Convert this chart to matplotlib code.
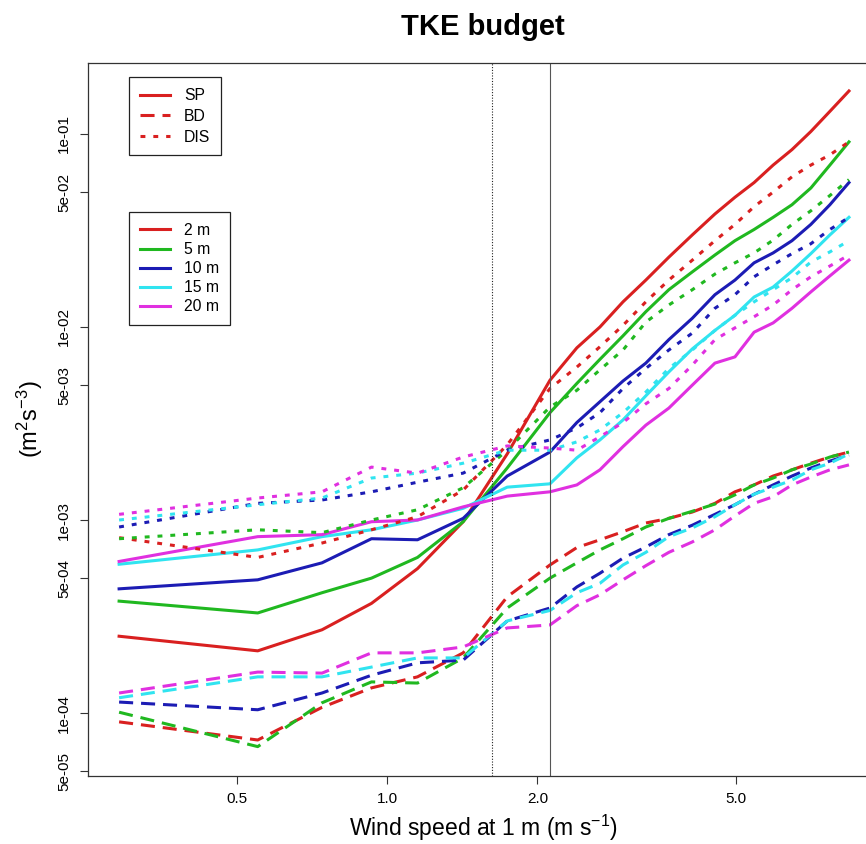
import numpy as np
import matplotlib
matplotlib.use("Agg")
import matplotlib.pyplot as plt
from matplotlib.lines import Line2D

plt.rcParams["font.family"] = ["Liberation Sans", "DejaVu Sans"]
plt.rcParams["mathtext.default"] = "regular"

# --- data ---
wind = [0.29, 0.55, 0.74, 0.93, 1.15, 1.42, 1.74, 2.12, 2.40, 2.67, 2.97,
        3.30, 3.67, 4.09, 4.54, 4.98, 5.44, 5.94, 6.48, 7.07, 7.72, 8.43]

# shear production
sp_2m = [2.5e-4, 2.1e-4, 2.7e-4, 3.7e-4, 5.6e-4, 9.8e-4, 2.2e-3, 5.3e-3, 7.8e-3, 1.0e-2, 1.35e-2,
         1.75e-2, 2.3e-2, 3.0e-2, 3.85e-2, 4.7e-2, 5.6e-2, 6.9e-2, 8.3e-2, 1.03e-1, 1.31e-1, 1.67e-1]
sp_5m = [3.8e-4, 3.3e-4, 4.2e-4, 5.0e-4, 6.4e-4, 9.8e-4, 1.86e-3, 3.6e-3, 5.1e-3, 6.8e-3, 9.0e-3,
         1.2e-2, 1.56e-2, 1.93e-2, 2.36e-2, 2.8e-2, 3.2e-2, 3.7e-2, 4.3e-2, 5.25e-2, 6.9e-2, 9.1e-2]
sp_10m = [4.4e-4, 4.9e-4, 6.0e-4, 8.0e-4, 7.9e-4, 1.02e-3, 1.69e-3, 2.25e-3, 3.2e-3, 4.1e-3, 5.25e-3,
          6.5e-3, 8.6e-3, 1.11e-2, 1.47e-2, 1.75e-2, 2.15e-2, 2.42e-2, 2.8e-2, 3.4e-2, 4.3e-2, 5.6e-2]
sp_15m = [5.9e-4, 7.0e-4, 8.2e-4, 8.9e-4, 1.0e-3, 1.15e-3, 1.48e-3, 1.54e-3, 2.1e-3, 2.6e-3, 3.3e-3,
          4.4e-3, 5.85e-3, 7.7e-3, 9.6e-3, 1.15e-2, 1.43e-2, 1.61e-2, 1.95e-2, 2.4e-2, 3.0e-2, 3.7e-2]
sp_20m = [6.1e-4, 8.2e-4, 8.4e-4, 9.8e-4, 1.0e-3, 1.17e-3, 1.33e-3, 1.40e-3, 1.52e-3, 1.82e-3, 2.4e-3,
          3.1e-3, 3.8e-3, 5.0e-3, 6.5e-3, 7.0e-3, 9.4e-3, 1.05e-2, 1.25e-2, 1.52e-2, 1.84e-2, 2.22e-2]

# buoyancy
bd_2m = [9.0e-5, 7.25e-5, 1.07e-4, 1.35e-4, 1.54e-4, 2.05e-4, 4.0e-4, 5.85e-4, 7.2e-4, 7.9e-4, 8.7e-4,
         9.65e-4, 1.02e-3, 1.1e-3, 1.22e-3, 1.4e-3, 1.52e-3, 1.69e-3, 1.82e-3, 1.97e-3, 2.12e-3, 2.25e-3]
bd_5m = [1.01e-4, 6.7e-5, 1.13e-4, 1.45e-4, 1.43e-4, 1.93e-4, 3.5e-4, 5.0e-4, 6.0e-4, 7.0e-4, 8.0e-4,
         9.2e-4, 1.02e-3, 1.11e-3, 1.21e-3, 1.35e-3, 1.52e-3, 1.65e-3, 1.82e-3, 1.95e-3, 2.12e-3, 2.25e-3]
bd_10m = [1.14e-4, 1.04e-4, 1.27e-4, 1.57e-4, 1.82e-4, 1.88e-4, 3.0e-4, 3.5e-4, 4.5e-4, 5.3e-4, 6.35e-4,
          7.25e-4, 8.4e-4, 9.4e-4, 1.07e-3, 1.2e-3, 1.36e-3, 1.52e-3, 1.69e-3, 1.86e-3, 2.02e-3, 2.17e-3]
bd_15m = [1.2e-4, 1.54e-4, 1.54e-4, 1.73e-4, 1.93e-4, 1.93e-4, 3.0e-4, 3.4e-4, 4.2e-4, 4.7e-4, 5.85e-4,
          6.8e-4, 8.2e-4, 9.1e-4, 1.04e-3, 1.2e-3, 1.36e-3, 1.48e-3, 1.61e-3, 1.82e-3, 1.97e-3, 2.2e-3]
bd_20m = [1.27e-4, 1.63e-4, 1.61e-4, 2.05e-4, 2.05e-4, 2.2e-4, 2.76e-4, 2.86e-4, 3.6e-4, 4.1e-4, 4.9e-4,
          5.8e-4, 6.8e-4, 7.7e-4, 8.9e-4, 1.05e-3, 1.22e-3, 1.32e-3, 1.52e-3, 1.67e-3, 1.82e-3, 1.93e-3]

# dissipation
dis_2m = [8.1e-4, 6.4e-4, 7.6e-4, 8.9e-4, 1.04e-3, 1.43e-3, 2.45e-3, 4.8e-3, 6.2e-3, 7.9e-3, 1.02e-2,
          1.35e-2, 1.75e-2, 2.22e-2, 2.8e-2, 3.4e-2, 4.2e-2, 5.0e-2, 6.0e-2, 6.9e-2, 7.8e-2, 9.1e-2]
dis_5m = [8.0e-4, 8.9e-4, 8.6e-4, 1.0e-3, 1.13e-3, 1.47e-3, 2.3e-3, 3.85e-3, 4.7e-3, 6.0e-3, 7.6e-3,
          1.06e-2, 1.3e-2, 1.56e-2, 1.88e-2, 2.15e-2, 2.42e-2, 2.82e-2, 3.4e-2, 4.0e-2, 4.8e-2, 5.8e-2]
dis_10m = [9.2e-4, 1.22e-3, 1.27e-3, 1.40e-3, 1.57e-3, 1.75e-3, 2.3e-3, 2.6e-3, 3.0e-3, 3.6e-3, 4.8e-3,
           6.1e-3, 7.6e-3, 9.3e-3, 1.25e-2, 1.47e-2, 1.82e-2, 2.1e-2, 2.4e-2, 2.7e-2, 3.2e-2, 3.7e-2]
dis_15m = [1.0e-3, 1.2e-3, 1.3e-3, 1.65e-3, 1.75e-3, 1.97e-3, 2.3e-3, 2.3e-3, 2.54e-3, 2.93e-3, 3.6e-3,
           4.6e-3, 6.1e-3, 7.6e-3, 9.6e-3, 1.15e-2, 1.35e-2, 1.56e-2, 1.8e-2, 2.17e-2, 2.45e-2, 2.8e-2]
dis_20m = [1.07e-3, 1.3e-3, 1.4e-3, 1.88e-3, 1.75e-3, 2.12e-3, 2.42e-3, 2.36e-3, 2.3e-3, 2.7e-3, 3.2e-3,
           4.0e-3, 4.8e-3, 6.35e-3, 8.6e-3, 9.9e-3, 1.13e-2, 1.3e-2, 1.56e-2, 1.82e-2, 2.07e-2, 2.36e-2]

heights = ["2 m", "5 m", "10 m", "15 m", "20 m"]
colors = ["#d92020", "#20b820", "#1c1cb4", "#30e4f0", "#e030e0"]
terms = ["SP", "BD", "DIS"]
styles = ["-", (0, (4.6, 2.6)), (0, (1.6, 2.6))]

series = {
    "SP": [sp_2m, sp_5m, sp_10m, sp_15m, sp_20m],
    "BD": [bd_2m, bd_5m, bd_10m, bd_15m, bd_20m],
    "DIS": [dis_2m, dis_5m, dis_10m, dis_15m, dis_20m],
}

x_ticks = [0.5, 1.0, 2.0, 5.0]
x_ticklabels = ["0.5", "1.0", "2.0", "5.0"]
y_ticks = [5e-5, 1e-4, 5e-4, 1e-3, 5e-3, 1e-2, 5e-2, 1e-1]
y_ticklabels = ["5e-05", "1e-04", "5e-04", "1e-03", "5e-03", "1e-02", "5e-02", "1e-01"]
vlines = [1.62, 2.12]

# --- figure ---
fig = plt.figure(figsize=(8.66, 8.44), dpi=100)
ax = fig.add_axes([0.1016, 0.0806, 0.9128, 0.8448])
ax.set_xscale("log")
ax.set_yscale("log")

lw = 2.2
for term, ls in zip(terms, styles):
    for vals, c in zip(series[term], colors):
        ax.plot(wind, vals, color=c, linestyle=ls, linewidth=lw)

ax.axvline(vlines[0], color="#222222", linestyle=(0, (1, 1.5)), linewidth=0.8)
ax.axvline(vlines[1], color="#555555", linestyle="-", linewidth=0.8)

ax.set_xlim(0.2512, 9.66)
ax.set_ylim(4.72e-5, 0.2333)
ax.set_xticks(x_ticks)
ax.set_xticklabels(x_ticklabels)
ax.set_yticks(y_ticks)
ax.set_yticklabels(y_ticklabels)
ax.minorticks_off()
ax.tick_params(axis="both", length=5.8, width=0.8, color="#333333",
               labelsize=11, pad=5.5)
ax.tick_params(axis="y", pad=6.5)
for lbl in ax.get_yticklabels():
    lbl.set_rotation(90)
    lbl.set_va("center")

for sp in ax.spines.values():
    sp.set_linewidth(0.9)
    sp.set_color("#333333")

ax.set_xlabel("Wind speed at 1 m (m s$^{-1}$)", fontsize=16.5)
ax.xaxis.set_label_coords(0.5, -0.052)
ax.set_ylabel("(m$^2$s$^{-3}$)", fontsize=17)
ax.yaxis.set_label_coords(-0.054, 0.5)
ax.set_title("TKE budget", fontsize=21, fontweight="bold", pad=20)

# legends
term_handles = [Line2D([], [], color=colors[0], linestyle=ls, linewidth=lw) for ls in styles]
leg1 = ax.legend(term_handles, terms, loc="upper left", bbox_to_anchor=(0.052, 0.980),
                 borderaxespad=0, fontsize=11.3, handlelength=1.9, handletextpad=0.9,
                 borderpad=0.7, labelspacing=0.36, fancybox=False, framealpha=1,
                 edgecolor="#222222")
leg1.get_frame().set_linewidth(0.9)
ax.add_artist(leg1)

height_handles = [Line2D([], [], color=c, linestyle="-", linewidth=lw) for c in colors]
leg2 = ax.legend(height_handles, heights, loc="upper left", bbox_to_anchor=(0.052, 0.791),
                 borderaxespad=0, fontsize=11.3, handlelength=1.9, handletextpad=0.9,
                 borderpad=0.7, labelspacing=0.26, fancybox=False, framealpha=1,
                 edgecolor="#222222")
leg2.get_frame().set_linewidth(0.9)

fig.savefig("out.png", dpi=100)
